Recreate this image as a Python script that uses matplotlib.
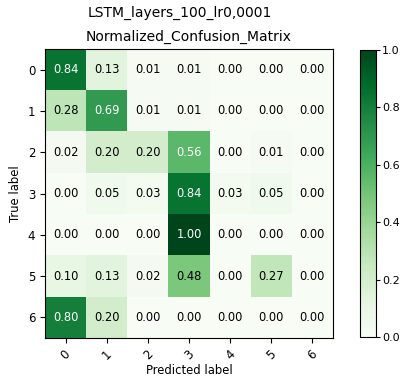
import matplotlib
matplotlib.use("Agg")
import matplotlib.pyplot as plt
import numpy as np

classes = ["0", "1", "2", "3", "4", "5", "6"]
cm = np.array([
    [0.84, 0.13, 0.01, 0.01, 0.00, 0.00, 0.00],
    [0.28, 0.69, 0.01, 0.01, 0.00, 0.00, 0.00],
    [0.02, 0.20, 0.20, 0.56, 0.00, 0.01, 0.00],
    [0.00, 0.05, 0.03, 0.84, 0.03, 0.05, 0.00],
    [0.00, 0.00, 0.00, 1.00, 0.00, 0.00, 0.00],
    [0.10, 0.13, 0.02, 0.48, 0.00, 0.27, 0.00],
    [0.80, 0.20, 0.00, 0.00, 0.00, 0.00, 0.00],
])

fig = plt.figure(figsize=(4.0, 3.8), dpi=100)
ax = fig.add_axes([45/400, 1-338/380, 288/400, 289/380])
cax = fig.add_axes([360/400, 1-337/380, 16/400, 287/380])
im = ax.imshow(cm, interpolation="nearest", cmap=plt.cm.Greens, vmin=0, vmax=1, aspect="auto")
cb = fig.colorbar(im, cax=cax)
cb.ax.tick_params(labelsize=8, pad=1.5, length=3)

ax.set_xticks(range(len(classes)))
ax.set_xticklabels(classes, rotation=45, fontsize=8.5)
ax.set_yticks(range(len(classes)))
ax.set_yticklabels(classes, fontsize=8.5)
thresh = cm.max() / 2.0
for i in range(cm.shape[0]):
    for j in range(cm.shape[1]):
        ax.text(j, i, format(cm[i, j], ".2f"), ha="center", va="center", fontsize=8.3,
                color="white" if cm[i, j] > thresh else "black")
ax.set_ylabel("True label", fontsize=8.4)
ax.set_xlabel("Predicted label", fontsize=8.4, labelpad=1)
ax.set_title("Normalized_Confusion_Matrix", fontsize=10, pad=6)
fig.text(180/400, 1-13/380, "LSTM_layers_100_lr0,0001", ha="center", va="center", fontsize=10)
fig.savefig("out.png", dpi=100)
